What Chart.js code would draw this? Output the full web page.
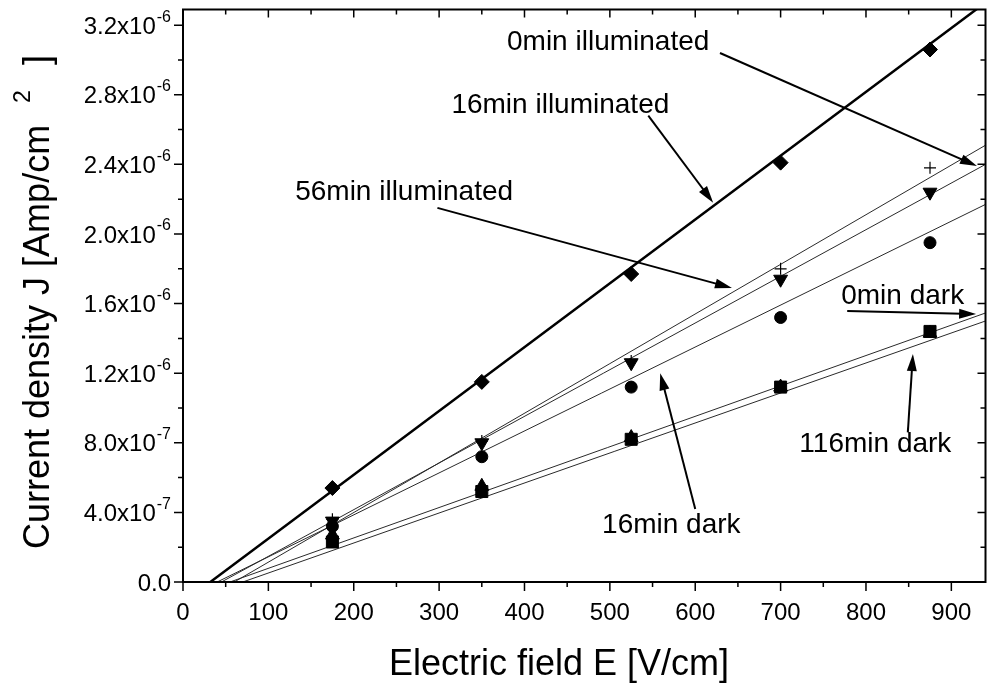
<!DOCTYPE html>
<html>
<head>
<meta charset="utf-8">
<script src="https://cdn.jsdelivr.net/npm/chart.js@4.4.0/dist/chart.umd.min.js"></script>
<style>
  html, body { margin: 0; padding: 0; background: #fff; }
</style>
</head>
<body>
<canvas id="chart" width="995" height="689"></canvas>
<script>
// Electric field values (V/cm) where J was measured
const fieldValues = [175, 350, 525, 700, 875];

// Current density J (A/cm^2), one array per marker shape
const diamonds = [0.54e-6, 1.15e-6, 1.77e-6, 2.41e-6, 3.06e-6];
const crosses = [0.36e-6, 0.81e-6, 1.27e-6, 1.80e-6, 2.38e-6];
const downTriangles = [0.35e-6, 0.80e-6, 1.26e-6, 1.74e-6, 2.24e-6];
const circles = [0.32e-6, 0.72e-6, 1.12e-6, 1.52e-6, 1.95e-6];
const upTriangles = [0.27e-6, 0.55e-6, 0.83e-6, 1.12e-6, 1.43e-6];
const squares = [0.23e-6, 0.52e-6, 0.82e-6, 1.12e-6, 1.44e-6];

// Straight-line fits: field where each line crosses J = 0, and J at the right edge
const fitZeroField = [32, 60, 45, 40, 55, 70];
const fitEdgeField = [940, 940, 940, 940, 940, 940];
const fitEdgeJ = [3.33e-6, 2.51e-6, 2.40e-6, 2.17e-6, 1.546e-6, 1.50e-6];

// Axis ticks
const xTickValues = [0, 100, 200, 300, 400, 500, 600, 700, 800, 900];
const yTickValues = [0, 0.4e-6, 0.8e-6, 1.2e-6, 1.6e-6, 2.0e-6, 2.4e-6, 2.8e-6, 3.2e-6];
const yTickMantissa = ['0.0', '4.0', '8.0', '1.2', '1.6', '2.0', '2.4', '2.8', '3.2'];
const yTickExponent = ['', '-7', '-7', '-6', '-6', '-6', '-6', '-6', '-6'];

// Annotation texts
const noteLabels = ['0min illuminated', '16min illuminated', '56min illuminated', '0min dark', '16min dark', '116min dark'];

const FONT = '"Liberation Sans", Arial, sans-serif';

// Where each note sits (data coords): text centre, arrow tail, arrow head
const noteLayout = [
  { tx: 498, ty: 3.10e-6, ax: 629, ay: 3.04e-6, bx: 930, by: 2.39e-6 },
  { tx: 442, ty: 2.74e-6, ax: 545, ay: 2.68e-6, bx: 621, by: 2.18e-6 },
  { tx: 259, ty: 2.24e-6, ax: 298, ay: 2.15e-6, bx: 643, by: 1.69e-6 },
  { tx: 843, ty: 1.64e-6, ax: 778, ay: 1.557e-6, bx: 929, by: 1.54e-6 },
  { tx: 572, ty: 0.325e-6, ax: 600, ay: 0.42e-6, bx: 559, by: 1.20e-6 },
  { tx: 811, ty: 0.79e-6, ax: 849, ay: 0.86e-6, bx: 855, by: 1.31e-6 }
];

// Builds the straight fit lines from their end points
const fitDatasets = fitZeroField.map((x0, i) => ({
  data: [{ x: x0, y: 0 }, { x: fitEdgeField[i], y: fitEdgeJ[i] }],
  showLine: true,
  borderColor: i === 0 ? '#000' : '#2a2a2a',
  borderWidth: i === 0 ? 2.5 : 1,
  pointRadius: 0,
  order: 2
}));

const toPoints = (values) => values.map((v, i) => ({ x: fieldValues[i], y: v }));

const markerDatasets = [
  { data: toPoints(diamonds), pointStyle: 'rectRot', pointRadius: 7.5 },
  { data: toPoints(crosses), pointStyle: 'cross', pointRadius: 6, pointBorderWidth: 1.2 },
  { data: toPoints(downTriangles), pointStyle: 'triangle', pointRotation: 180, pointRadius: 8 },
  { data: toPoints(circles), pointStyle: 'circle', pointRadius: 6 },
  { data: toPoints(upTriangles), pointStyle: 'triangle', pointRadius: 8 },
  { data: toPoints(squares), pointStyle: 'rect', pointRadius: 8.5 }
].map(ds => Object.assign({
  showLine: false,
  backgroundColor: '#000',
  borderColor: '#000',
  pointBackgroundColor: '#000',
  pointBorderColor: '#000',
  pointBorderWidth: 1,
  order: 1
}, ds));

// Draws an arrow with a filled head at (x2, y2)
const drawArrow = (ctx, x1, y1, x2, y2) => {
  const ang = Math.atan2(y2 - y1, x2 - x1);
  const len = 17, half = 5;
  ctx.beginPath();
  ctx.moveTo(x1, y1);
  ctx.lineTo(x2 - Math.cos(ang) * len * 0.8, y2 - Math.sin(ang) * len * 0.8);
  ctx.stroke();
  ctx.beginPath();
  ctx.moveTo(x2, y2);
  ctx.lineTo(x2 - Math.cos(ang) * len + Math.sin(ang) * half, y2 - Math.sin(ang) * len - Math.cos(ang) * half);
  ctx.lineTo(x2 - Math.cos(ang) * len - Math.sin(ang) * half, y2 - Math.sin(ang) * len + Math.cos(ang) * half);
  ctx.closePath();
  ctx.fill();
};

// Frame, tick marks, y tick labels, axis titles and notes
const decorPlugin = {
  id: 'decor',
  afterDraw(chart) {
    const ctx = chart.ctx;
    const area = chart.chartArea;
    const xs = chart.scales.x;
    const ys = chart.scales.y;
    ctx.save();
    ctx.strokeStyle = '#000';
    ctx.fillStyle = '#000';

    // frame
    ctx.lineWidth = 2;
    ctx.strokeRect(area.left, area.top, area.right - area.left, area.bottom - area.top);

    // x ticks (major + minor halfway)
    ctx.lineWidth = 1.5;
    ctx.beginPath();
    xTickValues.forEach((v) => {
      const px = xs.getPixelForValue(v);
      ctx.moveTo(px, area.bottom); ctx.lineTo(px, area.bottom + 9);
      ctx.moveTo(px, area.top); ctx.lineTo(px, area.top + 8);
      const mx = xs.getPixelForValue(v + 50);
      if (mx < area.right - 2) {
        ctx.moveTo(mx, area.bottom); ctx.lineTo(mx, area.bottom + 5);
        ctx.moveTo(mx, area.top); ctx.lineTo(mx, area.top + 5);
      }
    });
    // y ticks
    yTickValues.forEach((v) => {
      const py = ys.getPixelForValue(v);
      ctx.moveTo(area.left, py); ctx.lineTo(area.left - 9, py);
      ctx.moveTo(area.right, py); ctx.lineTo(area.right - 8, py);
      const my = ys.getPixelForValue(v + 0.2e-6);
      if (my > area.top + 2) {
        ctx.moveTo(area.left, my); ctx.lineTo(area.left - 5, my);
        ctx.moveTo(area.right, my); ctx.lineTo(area.right - 5, my);
      }
    });
    ctx.stroke();

    // y tick labels with superscript exponents
    const mainFont = '24px ' + FONT;
    const supFont = '16px ' + FONT;
    const labelRight = area.left - 12;
    yTickValues.forEach((v, i) => {
      const py = ys.getPixelForValue(v);
      const sup = yTickExponent[i];
      ctx.font = supFont;
      const wSup = sup ? ctx.measureText(sup).width + 1 : 0;
      ctx.font = mainFont;
      ctx.textAlign = 'right';
      ctx.textBaseline = 'middle';
      ctx.fillText(yTickMantissa[i] + (sup ? 'x10' : ''), labelRight - wSup, py + 2);
      if (sup) {
        ctx.font = supFont;
        ctx.textAlign = 'left';
        ctx.fillText(sup, labelRight - wSup + 1, py - 8);
      }
    });

    // x title
    ctx.font = '36px ' + FONT;
    ctx.textAlign = 'center';
    ctx.textBaseline = 'middle';
    ctx.fillText('Electric field E [V/cm]', 559, 665);

    // y title, rotated, with superscript 2
    ctx.save();
    ctx.translate(39, 305);
    ctx.rotate(-Math.PI / 2);
    ctx.font = '36px ' + FONT;
    ctx.textAlign = 'left';
    const mainTitle = 'Current density J [Amp/cm';
    const wMain = ctx.measureText(mainTitle).width;
    const startX = -244;
    ctx.fillText(mainTitle, startX, 0);
    ctx.font = '23px ' + FONT;
    const twoX = startX + wMain + 22;
    ctx.fillText('2', twoX, -15);
    ctx.font = '36px ' + FONT;
    ctx.fillText(']', twoX + 38, 0);
    ctx.restore();

    // notes with arrows
    ctx.font = '28px ' + FONT;
    ctx.textAlign = 'center';
    ctx.textBaseline = 'middle';
    ctx.lineWidth = 2;
    noteLayout.forEach((n, i) => {
      ctx.fillText(noteLabels[i], xs.getPixelForValue(n.tx), ys.getPixelForValue(n.ty));
      drawArrow(ctx, xs.getPixelForValue(n.ax), ys.getPixelForValue(n.ay),
        xs.getPixelForValue(n.bx), ys.getPixelForValue(n.by));
    });
    ctx.restore();
  }
};

new Chart(document.getElementById('chart').getContext('2d'), {
  type: 'scatter',
  data: { datasets: markerDatasets.concat(fitDatasets) },
  options: {
    responsive: false,
    animation: false,
    devicePixelRatio: 1,
    layout: { padding: { left: 0, top: 6, right: 2, bottom: 0 } },
    plugins: { legend: { display: false }, tooltip: { enabled: false } },
    scales: {
      x: {
        type: 'linear',
        min: 0,
        max: 940,
        grid: { display: false },
        border: { display: true, color: '#000', width: 2 },
        ticks: {
          stepSize: 100,
          includeBounds: false,
          padding: 9,
          color: '#000',
          maxRotation: 0,
          font: { family: FONT, size: 24 }
        },
        afterFit: (scale) => { scale.height = 107; }
      },
      y: {
        type: 'linear',
        min: 0,
        max: 3.29e-6,
        grid: { display: false },
        border: { display: true, color: '#000', width: 2 },
        ticks: { display: false },
        afterFit: (scale) => { scale.width = 183; }
      }
    }
  },
  plugins: [decorPlugin]
});
</script>
</body>
</html>
